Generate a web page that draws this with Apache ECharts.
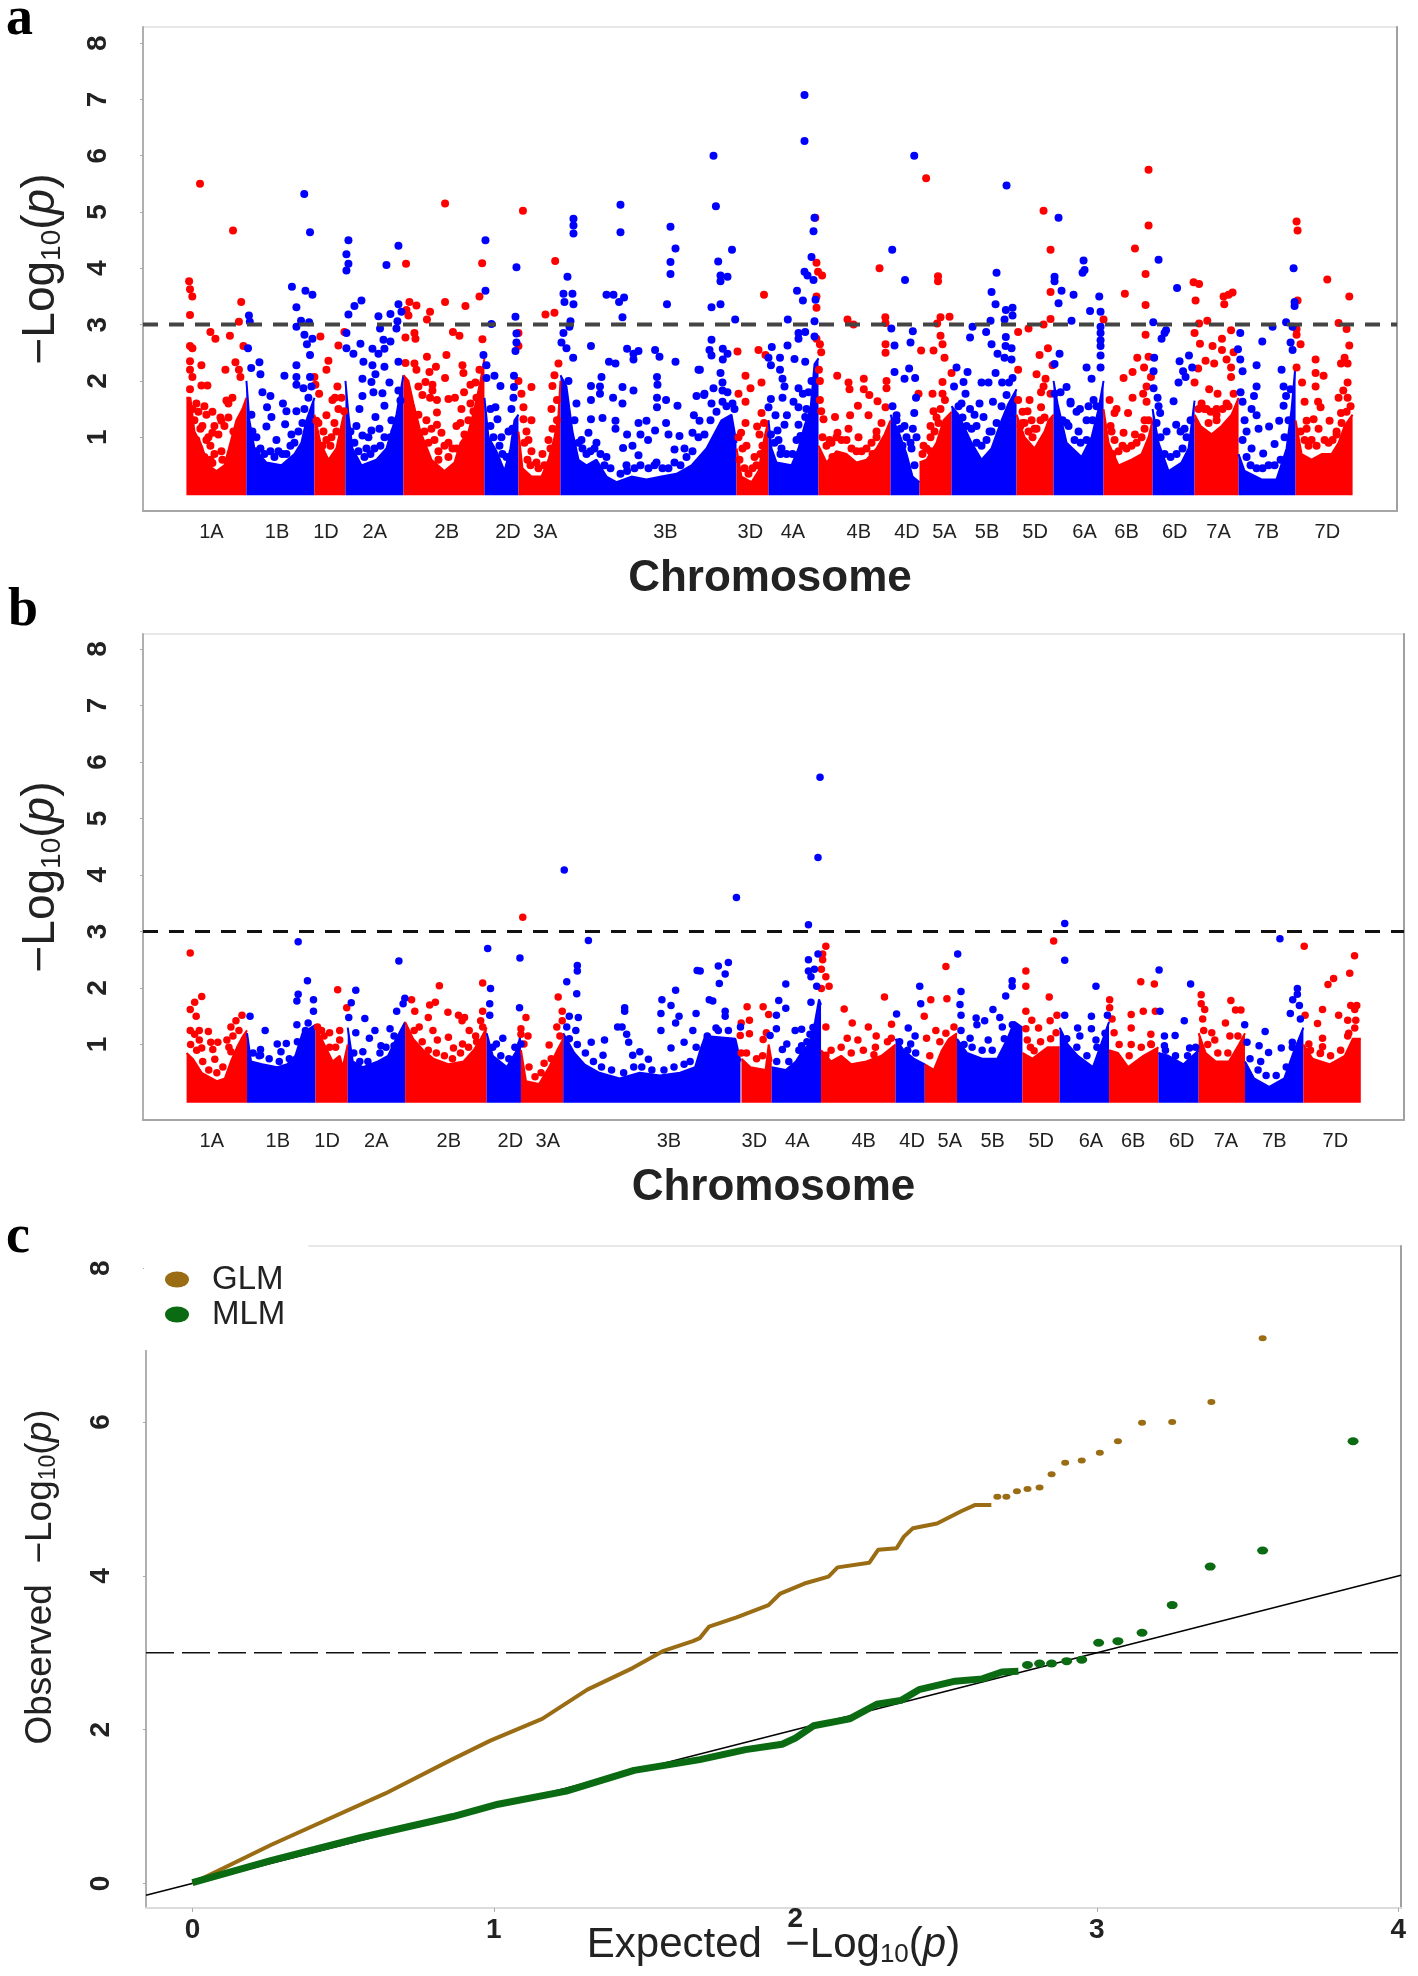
<!DOCTYPE html>
<html><head><meta charset="utf-8">
<style>html,body{margin:0;padding:0;background:#fff}#c{width:1418px;height:1976px}</style>
<script src="https://cdn.jsdelivr.net/npm/echarts@6/dist/echarts.min.js"></script>
</head><body><div id="c"></div>
<script>
const chromosomes=['1A','1B','1D','2A','2B','2D','3A','3B','3D','4A','4B','4D','5A','5B','5D','6A','6B','6D','7A','7B','7D'];
const chromLabelPos=[25,90.6,139.5,188.4,260.4,321.5,358.7,479,563.8,606.4,672.3,720.4,757.9,800.5,848.6,898,940,988.2,1032,1080.2,1140.7];
const yTicksManhattan=[1,2,3,4,5,6,7,8];
const yTicksQQ=[0,2,4,6,8];
const xTicksQQ=[0,1,2,3,4];
const threshold=3;

// dense band outline per chromosome, panel a (GLM)
const denseA=[
[[0,1.7],[4,1.7],[8,1.1],[14,.9],[22,.5],[30,.4],[38,.5],[44,.9],[50,1.3],[56,1.5],[60,1.7]],
[[60,2.0],[63,1.3],[68,.8],[80,.55],[95,.5],[108,.7],[115,.9],[120,1.3],[128,1.7]],
[[128,1.4],[134,.9],[142,.6],[150,.8],[156,1.3],[159,1.5]],
[[159,2.0],[162,1.4],[166,.8],[175,.5],[190,.6],[200,.8],[210,1.4],[217,2.1]],
[[217,2.1],[222,2.0],[227,1.6],[234,1.1],[245,.6],[258,.4],[268,.55],[274,.9],[282,1.1],[288,1.5],[294,2.0],[298,2.4]],
[[298,1.7],[302,1.0],[310,.75],[318,.4],[324,.8],[328,1.3],[332,1.4]],
[[332,1.1],[336,.45],[345,.3],[355,.3],[362,.6],[368,1.0],[372,1.4],[374,2.0]],
[[374,2.1],[380,1.9],[386,1.1],[392,.6],[400,.5],[410,.6],[420,.3],[430,.2],[445,.3],[460,.25],[475,.3],[490,.35],[505,.5],[520,.8],[535,1.3],[545,1.4],[550,.9]],
[[550,.8],[555,.3],[565,.2],[572,.4],[578,1.0],[582,1.3]],
[[582,1.3],[585,.8],[590,.55],[605,.5],[612,.8],[618,1.2],[624,1.5],[628,2.3],[632,2.4]],
[[632,.85],[640,.55],[650,.75],[660,.7],[670,.55],[680,.6],[690,.8],[698,1.05],[704,1.3]],
[[704,1.4],[712,1.1],[720,.7],[726,.3],[733,.2]],
[[733,.55],[740,.6],[750,.9],[757,1.3],[765,1.45]],
[[765,1.55],[772,1.4],[785,.9],[795,.6],[805,.8],[815,1.3],[822,1.6],[830,1.85]],
[[830,1.4],[838,1.0],[848,.8],[858,1.1],[862,1.3],[867,1.4]],
[[867,2.0],[871,1.6],[880,.9],[895,.65],[905,1.0],[912,1.5],[917,2.0]],
[[917,1.5],[922,.9],[932,.5],[945,.6],[955,.7],[962,1.0],[966,1.3]],
[[966,1.5],[972,.9],[982,.4],[995,.55],[1002,.8],[1008,1.65]],
[[1008,1.4],[1014,1.2],[1025,1.05],[1035,1.2],[1045,1.4],[1052,1.7]],
[[1052,.7],[1058,.4],[1075,.25],[1090,.25],[1100,.8],[1105,1.5],[1109,2.3]],
[[1109,1.3],[1115,.7],[1125,.6],[1135,.7],[1145,.7],[1152,.9],[1158,1.2],[1166,1.4]]];

const redA=[[13.6,5.5],[46.6,4.67],[2.7,3.77],[3.6,3.63],[5.9,3.5],[3.6,3.17],[54.8,3.4],[52.5,3.05],[24,2.87],[29,2.75],[43.5,2.8],[57,2.62],[3.6,2.62],[6,2.58],[3.6,2.35],[3.6,2.2],[15,2.28],[39,2.2],[49,2.33],[52.5,2.2],[54,2.07],[6,2.07],[15,1.92],[21,1.92],[3.6,1.85],[26,1.08],[22,1],[35,1.29],[26,.54],[24,.85],[35,.75],[31,.34],[13,.8],[10,1.6],[18,1.55],[26,1.45],[34,1.35],[40,1.65],[8,1.3],[16,1.2],
[134,2.79],[152,2.63],[158,2.87],[142,2.36],[140,2.2],[128,2.07],[129,1.93],[132.7,1.77],[151,1.9],[148.5,1.7],[157.6,1.46],[146,1.66],[140,1.39],[130,1.29],[137,1.1],[145,1.0],
[258.6,5.15],[219.6,4.08],[295.7,4.09],[293,3.5],[258.6,3.4],[279,3.33],[223,3.4],[230,3.34],[220,3.26],[222,3.16],[243.6,3.23],[240.5,3.09],[266.5,2.87],[273,2.8],[228,2.85],[219,2.77],[229,2.75],[296,2.74],[240.5,2.43],[260,2.46],[219,2.32],[228,2.31],[230,2.2],[249.5,2.25],[243,2.16],[276,2.28],[277,2.14],[258.6,2.05],[293,2.2],[239,1.98],[246,1.93],[246,1.83],[243.6,1.7],[250.5,1.66],[262,1.68],[268.5,1.7],[284,1.93],[289,1.97],[277.6,1.8],[275,1.5],[250.5,1.44],[250.5,1.22],[255,1.08],[287,1.46],[289,1.22],[240,1.3],[262,.9],[270,.8],[252,.75],
[336.5,5.02],[368.7,4.13],[368,3.21],[359,3.18],[345,1.89],[332,2],[335,1.77],[337,1.53],[337,1.32],[345,1.3],[345,.75],[365,1.5],[372,2.31],[368,2.1],[366,1.91],[370.5,1.66],[370.5,1.3],[332,2.62],[332,2.85],[340,1.1],[350,.55],[362,.95],
[577.5,3.53],[551,2.52],[572,2.55],[579,2.46],[559,2.09],[575,1.97],[564,1.87],[552,1.77],[559,1.63],[575,1.43],[559,1.25],[570.6,1.19],[577.5,1.25],[554.6,1.08],[573,1.05],[556,.8],[568,.65],
[628.8,4.9],[630,4.1],[631.5,3.94],[635.6,3.87],[630,3.5],[630,3.3],[630,2.75],[633.4,2.65],[634.7,2.51],[632.4,2.2],[633.4,2],[633.4,1.66],[634.7,1.46],
[650.7,2.09],[662,1.97],[677.3,2.04],[663,1.85],[677.3,1.85],[682.8,1.75],[671.4,1.56],[691,1.64],[700,2],[700,1.87],[699,1.53],[648.5,1.36],[663.6,1.39],[682,1.39],[693,4],[661,3.09],[667,3],[698.8,3.13],[699,3.03],[699,2.65],[699,2.5],[637,1.32],[662,1.15],[651,1.08],[643,.95],[672,1.0],[690,1.1],
[739.6,5.6],[751.5,3.86],[751.5,3.77],[754,3.13],[763,3.14],[750.6,3.02],[754,2.8],[756,2.65],[734.6,2.54],[747,2.54],[758,2.41],[765,2.14],[756,1.98],[732,1.77],[746,1.77],[756,1.77],[758.4,1.66],[747,1.46],[737,.85],[744,1.0],
[831.6,2.87],[842,2.93],[857,5.02],[864,4.33],[864,3.58],[864,3.1],[857,3],[861.4,2.58],[853,2.46],[866,2.28],[850,2.12],[831.6,2.2],[859,2.04],[857,1.9],[854.5,1.8],[864,1.77],[831.6,1.66],[843,1.66],[854.5,1.53],[841,1.46],[836,1.25],[848,1.15],
[962,5.75],[962,4.76],[948.4,4.35],[959,3.9],[938.3,3.55],[959,3.35],[917,3.09],[959,2.82],[962,2.43],[950.7,2.41],[957.5,2.24],[946,2.16],[937,2.05],[964.4,2.07],[960,1.9],[956.6,1.77],[946,1.7],[960,1.63],[923,1.66],[930,1.5],[941.5,1.43],[928,1.43],[937,1.08],[948.4,1.05],[925,1.1],[958,1.3],
[1007,3.75],[1012.5,3.72],[1009,3.43],[1037.7,3.36],[1037,3.5],[1042,3.53],[1046,3.57],[1012.5,3.02],[1020.7,3.07],[1008,2.85],[1035.4,2.75],[1044.5,2.9],[1013.4,2.66],[1026,2.62],[1035.4,2.55],[1047,2.51],[1019,2.36],[1027.6,2.31],[1040,2.38],[1011.6,2.22],[1044.5,2.24],[1044.5,2.07],[1008,1.97],[1022.6,1.85],[1031,1.77],[1047,1.77],[1015,1.6],[1020,1.5],[1030,1.4],
[1110,4.83],[1111,4.67],[1140.7,3.8],[1162.7,3.5],[1111,3.43],[1152,3.03],[1160,2.92],[1110,2.92],[1110,2.82],[1114,2.65],[1162.7,2.63],[1129,2.38],[1158,2.41],[1154.4,2.31],[1161,2.31],[1110,2.24],[1129,2.14],[1137,2.09],[1115.5,1.97],[1129,1.9],[1161,1.97],[1156.7,1.83],[1152,1.7],[1161,1.7],[1118,1.63],[1131.5,1.63],[1134,1.53],[1127,1.32],[1120,1.29],[1154.4,1.43],[1143,1.29],[1125,.95],[1150,1.1]];

const redFillA=[[6,1.5],[12,1.45],[20,1.4],[28,1.2],[32,1.05],[38,1.2],[42,1.6],[46,1.7],[14,1.15],[20,.95],[10,.95],[28,.7],[36,.6],[18,.65],[24,.6],[42,1.35],[47,1.1],
[132,1.25],[136,.85],[140,.95],[144,.85],[148,1.25],[152,1.5],[155,1.7],[150,1.1],
[232,1.4],[238,1.1],[242,.9],[248,.95],[252,.6],[258,.85],[262,.65],[266,.8],[270,1.2],[274,1.25],[278,1.05],[282,1.3],[284,1.6],[290,1.7],[236,1.75],[232,1.9],[245,1.15],[280,.9],
[338,.9],[341,.6],[344,.5],[352,.45],[358,.5],[364,.8],[366,1.15],[342,.95],[356,.7],
[553,.6],[558,.45],[562,.35],[566,.45],[570,.5],[574,.7],[576,.85],[552,1.0],[560,.85],
[636,1.0],[640,.85],[645,.9],[650,1.0],[655,.95],[660,.95],[665,.8],[670,.75],[675,.75],[680,.8],[685,.9],[690,1.0],[695,1.25],[646,.65],[686,.7],
[736,.7],[740,.8],[744,.75],[748,1.1],[752,1.25],[750,1.35],[744,1.2],[754,1.5],
[834,1.2],[838,1.25],[842,1.1],[846,1.0],[850,1.15],[854,1.3],[858,1.35],[836,1.45],[845,1.3],
[924,1.2],[928,.95],[932,.75],[936,.85],[940,.8],[945,.85],[950,.9],[955,1.0],[958,1.15],[962,1.3],[926,.7],
[1012,1.5],[1018,1.5],[1024,1.45],[1030,1.5],[1036,1.5],[1042,1.55],[1022,1.25],[1030,1.3],[1040,1.6],
[1114,1.1],[1118,.95],[1122,.85],[1130,.85],[1138,.95],[1142,.9],[1146,.95],[1150,1.05],[1155,1.25],[1160,1.45],[1164,1.55],[1120,1.15],[1132,1.15]];

const blueA=[[62.5,3.16],[63.4,3.05],[61.6,2.58],[64.8,2.23],[73,2.33],[74,2.12],[98,2.09],[105.5,3.67],[110,3.31],[110,2.96],[114.6,3.07],[122.7,3.04],[117.8,5.32],[123.6,4.64],[119,3.6],[126,3.53],[118,2.82],[126,2.75],[120.5,2.65],[123.6,2.46],[110,2.28],[110,2.07],[110,1.93],[123.6,2.07],[76,1.8],[84,1.73],[96.5,1.6],[100,1.46],[80.6,1.53],[85,1.36],[98.7,1.23],[110,1.46],[117,1.87],[80,1.19],[70,1.0],[90,.95],[105,1.05],
[162,4.5],[160,4.25],[162,4.08],[160,3.96],[200,4.06],[212,4.4],[212,3.36],[175,3.43],[168,3.33],[162,3.18],[192,3.15],[204,3.19],[215,3.23],[211,3.06],[193.6,2.93],[210,2.93],[160,2.85],[197,2.73],[204,2.7],[174,2.66],[186,2.57],[198,2.57],[160,2.58],[192,2.48],[167,2.48],[177,2.34],[186,2.28],[198,2.25],[212,2.34],[189,2.12],[176,2.04],[185,1.98],[203,1.97],[187,1.8],[176,1.73],[196,1.78],[173,1.5],[198,1.56],[189,1.36],[185,1.12],[176,1.03],[212,1.83],[205,1.3],[180,.8],
[299,4.5],[299,3.6],[305,3.01],[297,2.46],[300,2.28],[308,2.09],[300,2.05],[314,1.91],[327.5,1.89],[330,4.02],[329,3.14],[330,2.84],[330,2.68],[329,2.53],[327.5,2.09],[309,1.53],[311,1.32],[327,1.7],[325,1.5],[315,1.0],
[387,4.88],[387,4.76],[387,4.62],[434,5.13],[434,4.64],[484,4.74],[489,4.35],[484,4.11],[484,3.9],[480.5,3.36],[381,3.85],[377,3.55],[386,3.55],[378,3.4],[387,3.36],[420,3.53],[427,3.53],[437.6,3.48],[432.6,3.4],[436,3.13],[384,3.06],[377,2.85],[383,2.96],[375,2.68],[380,2.58],[386.7,2.41],[404.5,2.62],[422.5,2.34],[429,2.31],[440.6,2.57],[452,2.53],[447,2.48],[447,2.38],[468.6,2.55],[473,2.43],[489,2.34],[512,2.2],[470.5,2.07],[471,1.93],[404.5,1.91],[415,2.07],[413.5,1.9],[413.5,1.77],[404.5,1.66],[436,1.89],[447,1.83],[426.6,1.7],[436,1.6],[470.5,1.7],[479.6,1.66],[491,1.56],[510,1.73],[517.6,1.75],[470.5,1.53],[429,1.29],[416,1.34],[404.5,1.32],[452,1.25],[460,1.29],[479.6,1.25],[507.4,1.39],[513,1.29],[402,1.08],[429,1.15],[440.6,1.05],[454,1.05],[468.6,1.12],[482,1.05],[493,1.02],[506,1.08],[446,.85],[461.6,.95],[436.6,.81],[452,.68],[440.6,.4],[488,.78],[420,.65],[470,.55],[498,.8],[410,.9],[395,.95],
[527,6],[529.4,5.1],[531.7,4.12],[545.5,4.33],[534,3.87],[534,3.77],[541,3.85],[534,3.36],[525,3.31],[548.7,3.09],[525,2.73],[523,2.55],[525,2.45],[536.3,2.57],[541,2.48],[536.3,2.38],[534,2.14],[527,1.87],[536,1.97],[536,1.83],[541,1.8],[525,1.6],[518,1.77],[536,1.63],[548,1.5],[513.4,2.2],
[618,7.08],[618,6.26],[628,4.9],[627,4.66],[625,4.2],[618,3.94],[621,3.87],[627,3.79],[610.5,3.6],[616.4,3.43],[629,3.44],[601.3,3.09],[628,3.06],[612,2.85],[612,2.75],[618.7,2.87],[628,2.79],[601,2.63],[585.3,2.6],[582,2.41],[584.4,2.28],[593.5,2.41],[608,2.39],[618.7,2.34],[593.5,2.2],[596,2.04],[598,1.9],[612,1.87],[616.4,1.77],[584.4,1.68],[596,1.7],[607,1.63],[582,1.53],[589,1.39],[600.4,1.39],[612,1.53],[598,1.22],[591,1.12],[584.4,1.05],[612,1.22],[614,1.02],[618.7,1.36],[595,.8],
[705.7,4.33],[718.5,3.79],[727.7,6],[704.8,2.93],[726.3,2.88],[708,2.63],[724,2.68],[708,2.16],[722.6,2.22],[718,2.04],[728.6,2.05],[729.5,1.7],[727.7,1.43],[710,1.39],[726.3,1.15],[718,1.2],[725,.8],
[820,5.47],[810,3.92],[805,3.58],[809,3.36],[826,3.3],[819.3,3.26],[826,3.16],[818,3.09],[804,3.07],[786,2.96],[799.6,2.87],[783.5,2.77],[819.3,2.78],[805,2.65],[819,2.62],[825,2.58],[811,2.48],[818,2.41],[825,2.38],[770,2.24],[781,2.16],[809,2.14],[795,1.97],[777,1.98],[767.5,1.9],[779,1.77],[802,1.97],[815.6,1.97],[822.5,1.97],[793,1.6],[806.4,1.63],[783.5,1.5],[797,1.36],[775,1.6],[790,1.2],[803,1.1],
[872,4.9],[868,3.85],[868,3.77],[875,3.6],[872,3.38],[887,3.53],[885,3.07],[897,4.14],[898,3.97],[896,3.92],[912.7,3.5],[903.5,3.24],[914,3.23],[914,2.96],[914,2.85],[914,2.72],[914,2.62],[914,2.45],[873,2.48],[868,2.3],[914,2.24],[900,2.24],[905,2.04],[880,1.89],[868,1.77],[884,1.63],[893.4,1.5],[907,1.66],[880,1.25],[892,1.1],[900,1.3],
[972,4.15],[990.5,3.65],[966.7,3.04],[979.5,2.9],[978,2.85],[975,2.75],[967.6,2.41],[993,2.35],[1002.4,2.45],[967,2.17],[996.5,2.17],[1005.6,2.24],[999,2.07],[992,1.97],[967,1.87],[971,1.7],[987,1.64],[973.6,1.43],[989.6,1.22],[980,1.1],[998,1.15],
[1107,4],[1108,3.4],[1108,3.33],[1099.5,3.04],[1106,2.96],[1086,2.96],[1053.7,2.85],[1075.7,2.7],[1104,2.68],[1106,2.55],[1051.4,2.56],[1053.7,2.38],[1056,2.17],[1070,2.28],[1095,2.2],[1070,1.9],[1097,1.9],[1054,1.8],[1067.4,1.73],[1099.5,1.73],[1056,1.63],[1097,1.56],[1065,1.5],[1070,1.39],[1072,1.15],[1082.5,1.19],[1092.6,1.29],[1088,.88],[1076.6,.71],[1060,1.1],[1065,.8]];

const blueFillA=[[66,1.1],[70,.75],[74,.8],[78,.7],[84,.75],[88,.65],[92,.75],[96,.7],[100,.7],[104,.85],[108,.9],[112,1.1],[116,1.25],[118,1.5],[122,1.7],[125,1.9],[65,1.4],
[164,1.1],[168,.9],[172,.75],[178,.65],[184,.7],[188,.8],[194,.85],[198,1.0],[204,1.0],[208,1.1],[182,1.0],[193,1.15],[170,1.2],[214,1.65],
[304,1.2],[307,1.0],[313,.85],[316,.7],[320,.65],[322,1.1],[326,1.15],[304,1.5],
[388,1.3],[392,.9],[396,.8],[400,.7],[404,.75],[408,.8],[414,.7],[418,.5],[424,.45],[434,.35],[440,.5],[448,.45],[454,.5],[462,.45],[468,.5],[476,.45],[482,.45],[488,.55],[494,.5],[500,.65],[506,.75],[512,1.0],[518,1.05],[524,1.3],[530,1.45],[540,1.55],[546,1.6],[390,1.6],[382,2.0],
[588,.9],[594,.7],[600,.7],[606,.7],[610,.95],[620,1.5],[622,1.8],[625,2.0],[592,.95],
[706,1.55],[710,1.3],[714,1.15],[720,1.0],[724,.9],[728,.5],[716,.85],[730,1.0],
[772,1.55],[776,1.35],[780,1.2],[785,1.15],[790,.9],[795,.85],[800,.95],[805,1.1],[810,1.25],[815,1.55],[820,1.75],[826,2.05],[788,1.4],[772,1.1],
[874,1.8],[876,1.3],[882,1.2],[888,.95],[894,.9],[900,.95],[906,1.3],[910,1.55],[884,1.6],[902,1.55],[890,1.45],
[970,1.25],[974,1.0],[978,.7],[984,.65],[990,.7],[996,.8],[1000,1.0],[1004,1.3],[972,1.55],[994,1.1],
[1056,.95],[1060,.65],[1064,.5],[1070,.45],[1076,.45],[1082,.5],[1088,.5],[1094,.6],[1098,1.0],[1102,1.3],[1104,1.85],[1058,1.3]];

// dense band outline per chromosome, panel b (MLM)
const denseB=[
[[0,.85],[6,.75],[15,.5],[30,.35],[38,.4],[44,.7],[50,.95],[56,1.15],[60,1.25]],
[[60,1.2],[64,.7],[75,.65],[90,.6],[100,.65],[108,.8],[115,1.2],[128,1.35]],
[[128,1.3],[134,1.1],[145,.7],[152,.8],[155,.6],[160,1]],
[[160,1.3],[165,.7],[175,.6],[190,.7],[200,.8],[208,1.1],[217,1.4]],
[[217,1.4],[225,1.1],[235,.9],[245,.75],[260,.65],[275,.7],[285,.9],[292,1.1],[298,1.3]],
[[298,1.2],[304,.8],[318,.6],[328,.9],[332,1.2]],
[[332,.9],[337,.35],[350,.3],[360,.6],[368,.9],[374,1.1]],
[[374,1.2],[385,.85],[395,.65],[410,.5],[430,.4],[450,.5],[470,.45],[490,.5],[505,.6],[510,.9],[515,1.15],[545,1.1],[550,.7]],
[[551,.75],[560,.6],[575,.55],[578,1],[581,.7]],
[[581,.6],[595,.55],[605,.7],[612,.9],[618,1],[624,1.4],[628,1.8],[630,1.7]],
[[630,.9],[640,.7],[650,.8],[660,.65],[675,.7],[690,.8],[704,1]],
[[704,1.1],[712,.9],[722,.75],[733,.65]],
[[733,.65],[742,.55],[750,.9],[757,1.1],[765,1.2]],
[[765,1.1],[775,.85],[790,.75],[805,.75],[815,1.1],[822,1.4],[830,1.3]],
[[830,.85],[840,.75],[855,.95],[867,.95]],
[[867,1.3],[875,1],[885,.8],[900,.6],[908,1],[916,1.4]],
[[916,.9],[925,.85],[935,.6],[950,.8],[965,.95]],
[[965,.85],[975,.8],[990,.65],[1005,.9]],
[[1005,1.2],[1012,.85],[1022,.7],[1035,.7],[1045,1],[1051,1.2]],
[[1051,.7],[1060,.4],[1075,.25],[1090,.4],[1100,.9],[1109,1.3]],
[[1109,1],[1118,.75],[1135,.65],[1150,.8],[1158,1.1],[1166,1.1]]];

const redB=[[3.6,2.62],[15,1.85],[8,1.75],[3.6,1.62],[9.5,1.5],[55,1.52],[49,1.42],[44,1.31],[3.6,1.25],[12.6,1.25],[21.6,1.23],[8,1.18],[12.6,1.08],[24,1.04],[31,1.04],[15,.94],[26,.91],[40,1.08],[44,.87],[28,.74],
[150,1.97],[159,1.65],[130,1.31],[142,1.21],[152,1.25],[152,1.08],[136.5,1.15],
[251,2.04],[294,2.09],[223.4,1.79],[247,1.75],[241.4,1.7],[226.6,1.59],[240,1.48],[259.5,1.57],[270,1.52],[276,1.48],[273.5,1.42],[294,1.59],[292,1.42],[231,1.31],[244.6,1.25],[265,.94],[260,1.13],[280.6,1.25],[287,1.15],[294,1.31],[249,1.08],[274,1.01],
[333.8,3.25],[337,1.48],[332,1.28],[332,1.18],[339,1.15],[335,1.01],[360,.99],[369,1.84],[373,1.59],[373,1.42],[367.6,1.31],[370.7,1.15],[355,.67],[346,.43],
[556.6,1.67],[572.5,1.67],[578,1.53],[558.9,1.43],[550.7,1.38],[558.9,1.19],[549.8,1.16],[575.7,1.21],[572.5,1.09],[550.7,.85],
[634.8,2.74],[631.6,2.6],[631.6,2.5],[630.3,2.33],[634.8,2.2],[638,2.03],[630.3,1.99],[634.8,1.31],
[653,1.63],[693,1.84],[661,1.38],[677,1.31],[700,1.36],[656,1.11],[666.6,1.08],[684.8,1.15],[699.8,1.11],[682.5,.82],[634.8,.81],
[754,2.38],[739,1.79],[755,1.81],[732.5,1.5],[734.8,1.11],[744,1.25],[762,1.31],
[833.4,2.3],[833.4,2.03],[833.4,1.59],[861,2.83],[856.6,1.84],[839.3,1.43],[846,1.29],[857.5,1.42],[864.3,1.52],[863.4,1.21],[833.4,1.28],[834.8,1.08],[841.6,.89],
[947.5,2.11],[961,2.07],[916.6,1.79],[916.6,1.65],[919,1.45],[938,1.53],[950,1.59],[962,1.59],[921,1.21],[938,1.29],[957.5,1.18],[957.5,1.01],[938,1],
[1007.5,1.88],[1007.5,1.72],[1011,1.62],[1037,1.78],[1041.6,1.61],[1047,1.61],[1009,1.45],[1031.6,1.38],[1018,1.21],[1036,1.15],[1021,1.08],[1010,1.25],
[1109.8,2.74],[1159.8,2.57],[1155,2.26],[1139,2.17],[1133.4,2.06],[1156,1.69],[1162,1.69],[1160,1.62],[1128,1.62],[1144,1.52],[1110.7,1.52],[1153,1.43],[1161,1.43],[1123,1.37],[1160,1.29],[1128,1.11],[1153,1.15],[1114.4,1.01],[1128,.96],[1125.7,.84]];

const redFillB=[[4,1.0],[10,.9],[16,.7],[22,.55],[30,.5],[36,.6],[42,.95],[46,1.15],[52,1.25],[134,1.25],[142,.95],[148,.95],[226,1.25],[234,1.05],[240,.9],[248,.85],[256,.8],[264,.75],[272,.85],[280,.95],[288,1.05],[340,.6],[352,.5],[362,.75],[556,.85],[566,.75],[572,.8],[640,.9],[650,.95],[660,.85],[672,.9],[684,.95],[696,1.05],[738,.8],[748,1.05],[754,1.2],[838,.95],[848,1.05],[858,1.1],[926,1.0],[936,.8],[948,.95],[958,1.0],[1014,1.0],[1024,.85],[1034,.85],[1044,1.15],[1116,.9],[1126,.85],[1136,.8],[1146,.9],[1154,1.2]];

const blueB=[[110.8,2.82],[120,2.13],[110.8,1.89],[109.5,1.77],[126,1.79],[126,1.59],[63,1.5],[78,1.25],[90,1.01],[99,1.02],[73.4,.91],[73.4,.81],[93.7,.87],[109.5,1.35],[120.7,1.38],
[168,1.96],[163.5,1.74],[210.8,2.48],[216.7,1.82],[215,1.72],[208.6,1.59],[177,1.46],[161,1.48],[187,1.25],[181.5,1.11],[168,1.21],[175,.87],[202,1.28],[211,1.08],[206,.98],[193,.98],
[299,2.7],[301.8,1.99],[301,1.72],[301,1.52],[331,2.53],[330.6,1.65],[314,1.11],[307.6,1.01],[332,1.01],
[375,4.09],[399,2.84],[388,2.4],[388,2.3],[377.5,2.11],[387.4,1.9],[380,1.5],[389,1.48],[377.5,1.31],[386.5,1.25],[401.8,1.04],[415,1.08],[435,1.65],[435,1.59],[472,1.79],[471,1.55],[471,1.25],[485.6,1.96],[481,1.69],[489,1.5],[485.6,1.38],[505.9,1.55],[502.7,1.25],[507,2.31],[519,1.79],[428,1.31],[432.4,1.31],[437,1.18],[439,1.04],[443,.81],[450,.87],[458.6,.74],[494,1.04],[481,.94],[517,1.15],[515,.91],[413.5,.81],
[546,3.6],[538,2.45],[528,2.39],[534.8,2.25],[529,2.08],[522.5,1.77],[534.8,1.59],[534.8,1.5],[525.7,1.29],[550,1.31],[510,2.3],
[629,5.73],[627,4.31],[617.5,3.12],[627,2.6],[617.5,2.5],[623.4,2.33],[617.5,2.3],[620,2.2],[595,2.07],[625.7,2.03],[588,1.78],[620,1.75],[595,1.64],[585.7,1.52],[579.4,1.16],[585.7,1.28],[604.3,1.25],[610.7,1.27],[596,1.01],[591.6,.91],[610.7,.98],[619,1.18],
[728,2.03],[729,1.72],[705,1.54],[716.6,1.29],[723.4,1.15],[719,1.01],
[765.7,2.6],[769,1.94],[768,1.71],[769,1.52],[784,1.47],[792.5,1.42],[800.7,1.62],[813.4,1.86],[819.8,2.13],[819.8,2.03],[807.5,1.48],[769,1.25],[778,1.11],[796,1.08],[784.8,1.35],[810,1.31],
[872,3.14],[872,2.49],[903,2.03],[898.5,1.5],[872,1.52],[884.8,1.29],[898.5,1.28],[914.4,1.52],[887,1.15],[903,1.08],
[965.7,2.32],[997,2.07],[966.6,1.59],[990.7,1.42],[971,1.15],[981.6,1.16],[971,.98],[996,.94],
[1085.7,2.87],[1103,1.99],[1103,1.89],[1098.4,1.79],[1105,1.69],[1096,1.55],[1106,1.45],[1050.7,1.35],[1071,1.23],[1053,1.04],[1065,.98],[1074.4,.86],[1087,.94],[1098,1.04],[1066.6,.7]];

const blueFillB=[[66,.85],[72,.8],[82,.75],[92,.7],[102,.75],[110,1.05],[118,1.25],[166,.85],[172,.7],[180,.7],[192,.85],[198,.95],[206,1.15],[304,.95],[312,.8],[320,.75],[326,.95],[380,1.1],[388,1.0],[396,.85],[404,.7],[412,.6],[422,.55],[434,.5],[444,.6],[452,.6],[462,.55],[474,.55],[484,.6],[494,.65],[500,.7],[506,.95],[528,1.25],[538,1.25],[586,.7],[598,.7],[608,.9],[616,1.05],[622,1.3],[708,1.05],[716,.9],[724,.85],[772,1.0],[780,.95],[790,.9],[800,.9],[812,1.1],[820,1.35],[874,1.1],[884,.95],[894,.8],[904,.95],[912,1.2],[972,.9],[982,.8],[994,.8],[1002,.95],[1056,.75],[1064,.55],[1072,.45],[1082,.45],[1092,.6],[1098,.95]];

// QQ plot
const glmCurve=[[0,0],[.26,.5],[.64,1.17],[.86,1.61],[.99,1.86],[1.16,2.14],[1.31,2.52],[1.46,2.8],[1.56,3.02],[1.66,3.15],[1.683,3.19],[1.714,3.34],[1.805,3.46],[1.911,3.62],[1.95,3.77],[2.03,3.9],[2.11,3.99],[2.14,4.11],[2.245,4.17],[2.275,4.34],[2.336,4.36],[2.36,4.51],[2.39,4.62],[2.47,4.68],[2.55,4.84],[2.595,4.92],[2.65,4.92]];
const glmTail=[[2.67,5.03],[2.70,5.03],[2.735,5.1],[2.77,5.13],[2.81,5.15],[2.85,5.32],[2.895,5.47],[2.95,5.5],[3.01,5.6],[3.07,5.75],[3.15,5.99],[3.25,6],[3.38,6.26],[3.55,7.09]];
const mlmCurve=[[0,.01],[.263,.3],[.563,.6],[.864,.87],[1.014,1.03],[1.24,1.2],[1.465,1.47],[1.683,1.61],[1.835,1.74],[1.956,1.81],[2,1.89],[2.06,2.05],[2.18,2.14],[2.27,2.33],[2.35,2.38],[2.41,2.52],[2.53,2.63],[2.62,2.66],[2.685,2.75],[2.74,2.76]];
const mlmTail=[[2.77,2.84],[2.81,2.86],[2.85,2.86],[2.9,2.89],[2.95,2.91],[3.006,3.13],[3.07,3.15],[3.15,3.26],[3.25,3.62],[3.376,4.12],[3.55,4.33],[3.85,5.75]];
const diagonal=[[-.154,-.154],[4.009,4.009]];

const RED='#ff0000',BLUE='#0000ff',GLM='#9a6c14',MLM='#0a6b12';
const FONT='"Liberation Sans",Arial,sans-serif';
const SERIF='"Liberation Serif",serif';
const yNameRich={n:{fontSize:46,fontFamily:FONT,color:'#222'},s:{fontSize:28,fontFamily:FONT,color:'#222',padding:[22,0,0,0]},i:{fontSize:46,fontFamily:FONT,fontStyle:'italic',color:'#222'}};
const qqTick={fontFamily:FONT,fontWeight:'bold',fontSize:28,color:'#222'};

function grid(l,t,w,h){return {left:l,top:t,width:w,height:h,show:true,borderColor:'#e8e8e8',borderWidth:2,backgroundColor:'#fff',outerBoundsMode:'none'};}
function chromAxis(i,min,max){return {type:'value',gridIndex:i,min,max,
  axisLine:{onZero:false,lineStyle:{color:'#a6a6a6',width:2}},axisTick:{show:false},splitLine:{show:false},
  axisLabel:{customValues:chromLabelPos,margin:11,fontFamily:FONT,fontSize:20,color:'#222',
    formatter:v=>chromosomes[chromLabelPos.indexOf(v)]},
  name:'Chromosome',nameLocation:'middle',nameGap:46,nameTextStyle:{fontFamily:FONT,fontWeight:'bold',fontSize:44,color:'#222'}};}
function leftAxis(i,min,max,ticks,name,rich,gap){return {type:'value',gridIndex:i,min,max,
  axisLine:{onZero:false,lineStyle:{color:'#b0b0b0',width:2}},axisTick:{customValues:ticks,length:3,lineStyle:{color:'#aaa'}},splitLine:{show:false},
  axisLabel:{customValues:ticks,rotate:90,margin:31,fontFamily:FONT,fontWeight:'bold',fontSize:28,color:'#222'},
  name,nameLocation:'middle',nameRotate:90,nameGap:gap,nameTextStyle:{rich}};}
function rightAxis(i,min,max){return {type:'value',gridIndex:i,position:'right',min,max,
  axisLine:{onZero:false,lineStyle:{color:'#a0a0a0',width:2}},axisTick:{show:false},axisLabel:{show:false},splitLine:{show:false}};}

function manhattan(i,dense,red,blue,size,dash){
  const out=[];
  dense.forEach((d,k)=>{const c=k%2?BLUE:RED;out.push({type:'line',xAxisIndex:i,yAxisIndex:i,data:d,showSymbol:false,silent:true,z:2,
    lineStyle:{color:c,width:2},itemStyle:{color:c},areaStyle:{color:c,opacity:1,origin:-.03}});});
  out.push({type:'scatter',xAxisIndex:i,yAxisIndex:i,data:red,symbolSize:size,itemStyle:{color:RED,opacity:1},z:3,silent:true});
  out.push({type:'scatter',xAxisIndex:i,yAxisIndex:i,data:blue,symbolSize:size,itemStyle:{color:BLUE,opacity:1},z:3,silent:true});
  const ax=i===0?[-43.4,1210.4]:[-43.3,1208.9];
  out.push({type:'line',xAxisIndex:i,yAxisIndex:i,data:[[ax[0],threshold],[ax[1],threshold]],showSymbol:false,silent:true,z:4,lineStyle:dash});
  return out;
}

const option={animation:false,backgroundColor:'#fff',
 title:[
  {text:'a',left:1,top:-12,textStyle:{fontFamily:SERIF,fontWeight:'bold',fontSize:54,color:'#000'}},
  {text:'b',left:3,top:579,textStyle:{fontFamily:SERIF,fontWeight:'bold',fontSize:54,color:'#000'}},
  {text:'c',left:1,top:1206,textStyle:{fontFamily:SERIF,fontWeight:'bold',fontSize:54,color:'#000'}}],
 grid:[grid(143,27,1254,484),grid(143,634,1261,486),grid(146,1246,1255,662)],
 xAxis:[chromAxis(0,-43.4,1210.4),chromAxis(1,-43.3,1208.9),
  {type:'value',gridIndex:2,min:-.154,max:4.009,
   axisLine:{onZero:false,lineStyle:{color:'#dcdcdc',width:2}},axisTick:{customValues:xTicksQQ,length:4,lineStyle:{color:'#aaa'}},splitLine:{show:false},
   axisLabel:{customValues:xTicksQQ,margin:-3,...qqTick,
     formatter:v=>v===2?'{up|2}':'{d|'+v+'}',rich:{up:{...qqTick},d:{...qqTick,padding:[11,0,0,0]}}},
   name:'{n|Expected  −Log}{s|10}{n|(}{i|p}{n|)}',nameLocation:'middle',nameGap:14,nameMoveOverlap:false,
   nameTextStyle:{rich:{n:{fontSize:42,fontFamily:FONT,color:'#222'},s:{fontSize:26,fontFamily:FONT,color:'#222',padding:[20,0,0,0]},i:{fontSize:42,fontFamily:FONT,fontStyle:'italic',color:'#222'}}}}],
 yAxis:[leftAxis(0,-.311,8.286,yTicksManhattan,'{n|−Log}{s|10}{n|(}{i|p}{n|)}',yNameRich,77),
  leftAxis(1,-.336,8.265,yTicksManhattan,'{n|−Log}{s|10}{n|(}{i|p}{n|)}',yNameRich,77),
  leftAxis(2,-.32,8.29,yTicksQQ,'{n|Observed  −Log}{s|10}{n|(}{i|p}{n|)}',
    {n:{fontSize:37,fontFamily:FONT,color:'#222'},s:{fontSize:23,fontFamily:FONT,color:'#222',padding:[16,0,0,0]},i:{fontSize:37,fontFamily:FONT,fontStyle:'italic',color:'#222'}},86),
  rightAxis(0,-.311,8.286),rightAxis(1,-.336,8.265),rightAxis(2,-.32,8.29)],
 legend:{show:true,orient:'vertical',left:144,top:1240,padding:[23,23,19,21],itemWidth:24,itemHeight:17,itemGap:2,backgroundColor:'#fff',z:20,
   data:[{name:'GLM',icon:'path://M0 8A12 8 0 1 1 24 8A12 8 0 1 1 0 8Z'},{name:'MLM',icon:'path://M0 8A12 8 0 1 1 24 8A12 8 0 1 1 0 8Z'}],selectedMode:false,
   textStyle:{fontFamily:FONT,fontSize:33,color:'#222',padding:[0,0,0,18]}},
 series:[
  ...manhattan(0,denseA,redA.concat(redFillA),blueA.concat(blueFillA),8,{color:'#444',width:4,type:[15,11]}),
  ...manhattan(1,denseB,redB.concat(redFillB),blueB.concat(blueFillB),7.5,{color:'#111',width:3,type:[15,11]}),
  {type:'line',xAxisIndex:2,yAxisIndex:2,data:[[-.154,threshold],[4.009,threshold]],showSymbol:false,silent:true,z:2,lineStyle:{color:'#111',width:1.5,type:[28,8]}},
  {type:'line',xAxisIndex:2,yAxisIndex:2,data:diagonal,showSymbol:false,silent:true,z:2,lineStyle:{color:'#000',width:1.5}},
  {name:'GLM',type:'line',xAxisIndex:2,yAxisIndex:2,data:glmCurve,showSymbol:false,silent:true,z:3,lineStyle:{color:GLM,width:4},itemStyle:{color:GLM}},
  {name:'GLM',type:'scatter',xAxisIndex:2,yAxisIndex:2,data:glmTail,symbolSize:[8,6],itemStyle:{color:GLM,opacity:1},z:3,silent:true},
  {name:'MLM',type:'line',xAxisIndex:2,yAxisIndex:2,data:mlmCurve,showSymbol:false,silent:true,z:4,lineStyle:{color:MLM,width:7},itemStyle:{color:MLM}},
  {name:'MLM',type:'scatter',xAxisIndex:2,yAxisIndex:2,data:mlmTail,symbolSize:[11,8],itemStyle:{color:MLM,opacity:1},z:4,silent:true}]};
echarts.init(document.getElementById('c'),null,{renderer:'canvas'}).setOption(option);
</script></body></html>
